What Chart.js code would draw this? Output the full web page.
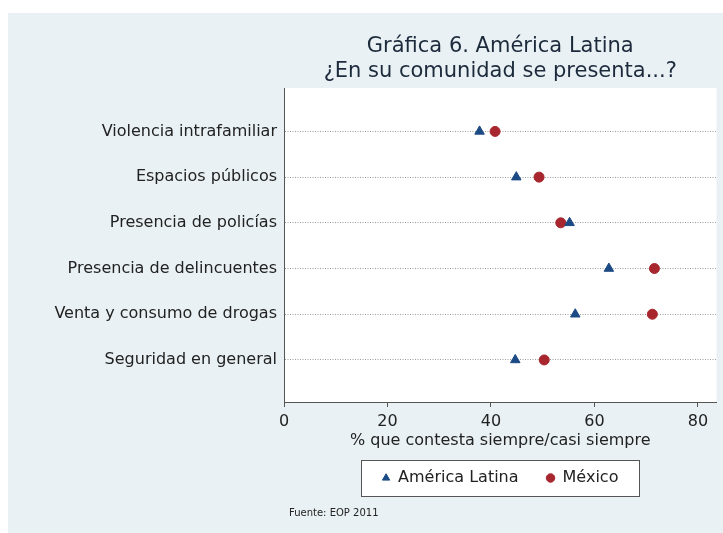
<!DOCTYPE html>
<html>
<head>
<meta charset="utf-8">
<script src="https://cdn.jsdelivr.net/npm/chart.js@4.4.1/dist/chart.umd.min.js"></script>
<style>
  html, body { margin: 0; padding: 0; background: #fff; }
</style>
</head>
<body>
<canvas id="chart" width="723" height="533"></canvas>
<script>
// datos
const categories = [
    "Violencia intrafamiliar",
    "Espacios públicos",
    "Presencia de policías",
    "Presencia de delincuentes",
    "Venta y consumo de drogas",
    "Seguridad en general",
];
const latamValues = [37.8, 44.9, 55.2, 62.8, 56.3, 44.7];
const mexicoValues = [40.8, 49.3, 53.5, 71.6, 71.2, 50.3];
const xTicks = [0, 20, 40, 60, 80];
const titleLines = ["Gráfica 6. América Latina", "¿En su comunidad se presenta...?"];
const xTitle = "% que contesta siempre/casi siempre";
const sourceNote = "Fuente: EOP 2011";

const FONT = "'DejaVu Sans', 'Liberation Sans', sans-serif";
const BLUE = "#1c4a84";
const RED = "#a8272f";
const LEGEND_PAD = 28;
const LEGEND_FONT = 16;
const LEGEND_CY = 478;
const PLOT_BOTTOM = 402;
const XTITLE_CY = 441;

const toPoints = (values) => values.map((v, i) => ({ x: v, y: i }));

// fondo, area blanca, cuadro de leyenda y fuente
const frame = {
    id: "frame",
    afterLayout(chart) {
        const lg = chart.legend;
        const h = lg.height;
        lg.left = chart.chartArea.left;
        lg.right = chart.chartArea.right;
        lg.width = lg.right - lg.left;
        lg.top = LEGEND_CY - LEGEND_PAD - LEGEND_FONT / 2;
        lg.bottom = lg.top + h;
    },
    beforeDraw(chart) {
        const { ctx, chartArea } = chart;
        ctx.save();
        ctx.fillStyle = "#e9f1f4";
        ctx.fillRect(8, 13, 723 - 8, 533 - 13);
        ctx.fillStyle = "#fff";
        ctx.fillRect(chartArea.left, chartArea.top, chartArea.right - chartArea.left, chartArea.bottom - chartArea.top);

        const cx = (chartArea.left + chartArea.right) / 2;
        const x0 = Math.round(cx - 139) + 0.5;
        const y0 = LEGEND_CY - 18 + 0.5;
        ctx.fillStyle = "#fff";
        ctx.fillRect(x0, y0, 278, 36);
        ctx.strokeStyle = "#555";
        ctx.lineWidth = 1;
        ctx.strokeRect(x0, y0, 278, 36);

        ctx.fillStyle = "#222";
        ctx.font = "10px " + FONT;
        ctx.textBaseline = "middle";
        ctx.fillText(sourceNote, 289, 513);
        ctx.restore();
    },
};

new Chart(document.getElementById("chart"), {
    type: "scatter",
    data: {
        datasets: [
            {
                label: "América Latina",
                data: toPoints(latamValues),
                pointStyle: "triangle",
                backgroundColor: BLUE,
                borderColor: BLUE,
                borderWidth: 1,
                pointRadius: 5.5,
            },
            {
                label: "México",
                data: toPoints(mexicoValues),
                pointStyle: "circle",
                backgroundColor: RED,
                borderColor: RED,
                borderWidth: 1,
                pointRadius: 5,
            },
        ],
    },
    options: {
        responsive: false,
        animation: false,
        layout: { padding: { top: 0, right: 5, bottom: 0, left: 0 } },
        scales: {
            x: {
                type: "linear",
                position: "bottom",
                min: 0,
                max: 83.6,
                afterBuildTicks: (axis) => { axis.ticks = xTicks.map((v) => ({ value: v })); },
                afterFit: (axis) => {
                    const lg = axis.chart.legend;
                    const h = axis.chart.height - (lg ? lg.height : 0) - PLOT_BOTTOM;
                    axis.height = h;
                    // el titulo del eje queda a una altura fija
                    axis.options.title.padding = { top: 0, bottom: PLOT_BOTTOM + h - XTITLE_CY - 9.6 };
                },
                grid: { display: true, drawOnChartArea: false, drawTicks: true, tickLength: 5, tickColor: "#555", color: "#555" },
                border: { display: true, color: "#555", width: 1 },
                ticks: { color: "#222", font: { family: FONT, size: 16 }, padding: 5 },
                title: { display: true, text: xTitle, color: "#222", font: { family: FONT, size: 16 }, padding: { top: 0, bottom: 9 } },
            },
            x2: {
                type: "linear",
                position: "top",
                min: 0,
                max: 83.6,
                afterFit: (axis) => { axis.height = 88; },
                grid: { display: false },
                border: { display: false },
                ticks: { display: false },
                title: {
                    display: true,
                    text: titleLines,
                    color: "#1c2a3c",
                    font: { family: FONT, size: 21, lineHeight: 1.2 },
                    padding: { top: 34, bottom: 0 },
                },
            },
            y: {
                type: "linear",
                reverse: true,
                min: -0.95,
                max: 5.92,
                afterBuildTicks: (axis) => { axis.ticks = categories.map((c, i) => ({ value: i })); },
                afterFit: (axis) => { axis.width = 284; },
                grid: { display: true, drawTicks: false, color: "#9c9c9c", lineWidth: 1 },
                border: { display: true, color: "#555", width: 1, dash: [1, 1.5] },
                ticks: {
                    color: "#222",
                    font: { family: FONT, size: 16 },
                    padding: 7,
                    callback: (value) => categories[value],
                },
            },
        },
        plugins: {
            legend: {
                display: true,
                position: "bottom",
                labels: {
                    usePointStyle: true,
                    boxWidth: 8,
                    boxHeight: 6,
                    color: "#222",
                    font: { family: FONT, size: LEGEND_FONT },
                    padding: LEGEND_PAD,
                },
            },
            tooltip: { enabled: false },
        },
    },
    plugins: [frame],
});
</script>
</body>
</html>
